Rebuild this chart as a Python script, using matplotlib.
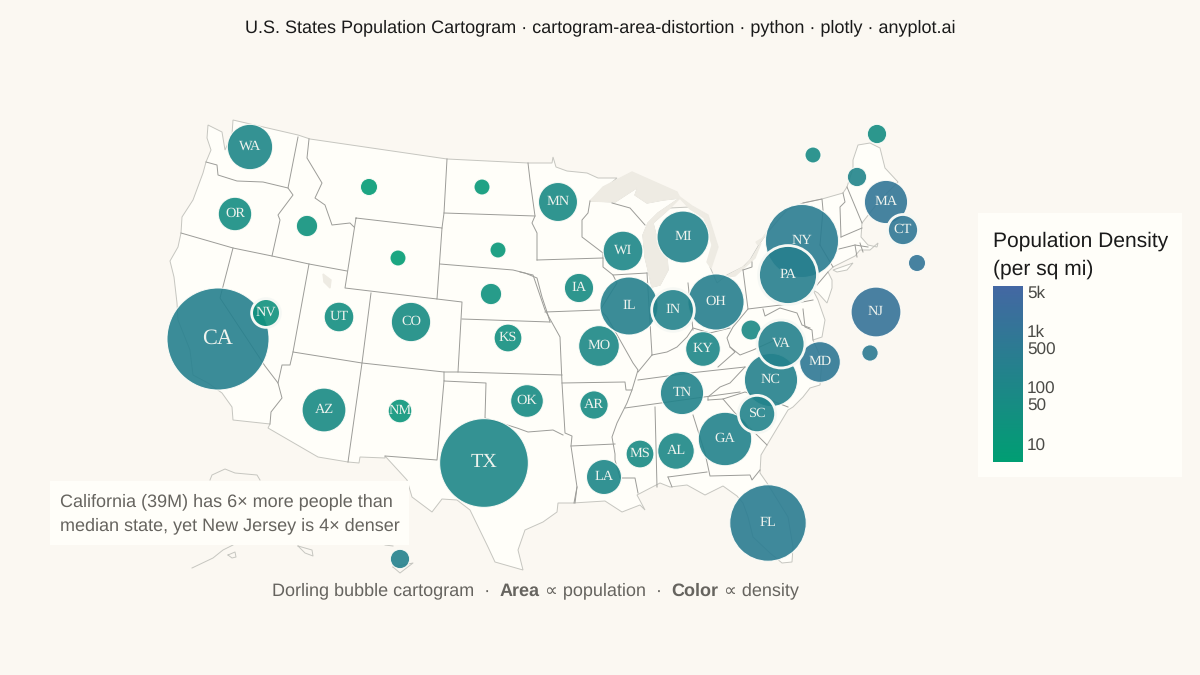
#!/usr/bin/env python3
import matplotlib
matplotlib.use("Agg")
import matplotlib.pyplot as plt
import numpy as np
from matplotlib.colors import LinearSegmentedColormap, LogNorm
from matplotlib.patches import Polygon, Rectangle

plt.rcParams["font.family"] = ["Liberation Sans", "DejaVu Sans"]
plt.rcParams["text.hinting"] = "no_hinting"

# cartogram layout, read in image pixels
STATES = ["WA", "OR", "CA", "NV", "ID", "MT", "WY", "UT", "CO", "AZ", "NM", "ND", "SD", "NE", "KS", "OK", "TX",
          "MN", "IA", "MO", "AR", "LA", "WI", "IL", "IN", "MI", "OH", "KY", "TN", "MS", "AL", "GA", "FL", "SC",
          "NC", "VA", "WV", "MD", "NJ", "PA", "NY", "MA", "CT", "RI", "DE", "ME", "NH", "VT", "HI"]
STATE_X = [250, 235, 218, 266, 307, 369, 398, 339, 411, 324, 400, 482, 498, 491, 508, 527, 484,
           558, 579, 599, 594, 604, 623, 629, 673, 683, 716, 703, 682, 640, 676, 725, 768, 757,
           771, 781, 751, 820, 876, 788, 802, 886, 903, 917, 870, 877, 857, 813, 400]
STATE_Y = [147, 214, 339, 313, 226, 187, 258, 317, 322, 410, 411, 187, 250, 294, 338, 401, 463,
           202, 288, 346, 405, 477, 251, 306, 310, 237, 302, 349, 393, 454, 451, 439, 523, 414,
           380, 344, 330, 362, 312, 275, 241, 202, 230, 263, 353, 134, 177, 155, 559]
POPULATION_M = [7.7, 4.2, 39.0, 3.1, 1.7, 1.1, 0.6, 3.3, 5.8, 7.2, 2.1, 0.8, 0.9, 1.7, 2.9, 4.0, 29.5,
                5.7, 3.2, 6.2, 3.0, 4.6, 5.9, 12.6, 6.8, 10.1, 11.8, 4.5, 7.0, 2.9, 5.0, 10.7, 21.9, 5.2,
                10.6, 8.6, 1.5, 6.2, 9.3, 13.0, 20.0, 7.0, 3.6, 1.1, 1.0, 1.4, 1.4, 0.6, 1.4]
DENSITY = [115, 44, 254, 28, 23, 7.5, 6, 41, 56, 64, 17, 11, 12, 25, 36, 58, 112,
           71, 57, 89, 58, 107, 108, 230, 189, 178, 288, 114, 167, 63, 100, 185, 400, 171,
           215, 218, 75, 636, 1260, 290, 420, 900, 745, 1060, 510, 44, 153, 69, 226]
# states with the heavier white ring
RINGED = ["NV", "IN", "PA", "VA", "SC", "CT"]

CBAR_TICKS = [10, 50, 100, 500, 1000, 5000]
CBAR_LABELS = ["10", "50", "100", "500", "1k", "5k"]

# map outlines in image pixels
LAND = [(233, 120), (298, 135), (310, 139), (447, 159), (528, 163), (552, 163), (553, 157), (556, 167), (567, 171),
        (587, 173), (598, 178), (617, 178), (590, 201), (615, 202), (638, 187), (635, 195), (647, 203), (663, 200),
        (680, 198), (658, 213), (648, 223), (643, 235), (645, 257), (652, 287), (660, 285), (668, 270), (667, 257),
        (658, 243), (653, 223), (670, 208), (690, 207), (707, 215), (717, 247), (710, 267), (717, 283), (727, 275),
        (743, 267), (750, 260), (760, 243), (767, 233), (787, 210), (803, 203), (822, 199), (843, 193), (847, 187),
        (853, 168), (853, 160), (858, 145), (870, 143), (880, 148), (885, 168), (898, 182), (880, 200), (862, 223),
        (861, 237), (868, 245), (877, 247), (878, 243), (870, 250), (860, 250), (855, 256), (833, 267), (828, 272),
        (832, 280), (832, 288), (827, 303), (818, 293), (813, 290), (818, 300), (825, 320), (822, 337), (813, 340),
        (822, 360), (820, 385), (810, 388), (803, 397), (793, 407), (788, 410), (767, 445), (761, 455), (760, 473),
        (767, 483), (788, 517), (793, 547), (792, 562), (782, 563), (770, 553), (753, 537), (748, 517), (743, 503),
        (737, 496), (723, 486), (705, 495), (687, 485), (670, 487), (660, 483), (637, 495), (645, 510), (640, 505),
        (622, 512), (605, 501), (573, 503), (558, 503), (557, 512), (543, 522), (525, 530), (518, 550), (523, 570),
        (495, 562), (488, 547), (470, 510), (457, 500), (442, 499), (432, 512), (412, 497), (407, 480), (385, 456),
        (385, 458), (360, 457), (359, 463), (348, 462), (318, 457), (268, 428), (270, 424), (233, 420), (232, 407),
        (222, 393), (208, 383), (193, 375), (190, 350), (178, 320), (177, 303), (174, 277), (170, 261), (178, 247),
        (181, 233), (182, 217), (193, 200), (203, 173), (206, 162), (211, 150), (207, 138), (208, 125), (222, 132),
        (225, 150), (232, 135)]
LONG_ISLAND = [(833, 270), (853, 263), (847, 270), (837, 272)]
LAKES = [[(590, 201), (603, 187), (632, 172), (677, 192), (680, 198), (663, 200), (647, 203), (635, 195), (638, 187), (615, 202)],
         [(680, 198), (658, 213), (648, 223), (643, 235), (645, 257), (652, 287), (660, 285), (668, 270), (667, 257), (658, 243), (653, 223), (670, 208)],
         [(677, 195), (692, 206), (708, 215), (718, 247), (711, 268), (707, 262), (712, 245), (704, 218), (690, 209)],
         [(725, 277), (745, 266), (752, 258), (761, 243), (755, 258), (735, 276)],
         [(756, 242), (763, 238), (767, 232), (758, 245)],
         [(323, 274), (331, 280), (330, 288), (324, 282)]]
EXTRA_COAST = [[(210, 480), (212, 475), (225, 469), (235, 473), (257, 475), (260, 480)],
               [(192, 568), (213, 558), (223, 550), (233, 545)],
               [(228, 555), (235, 552), (236, 557), (232, 558), (228, 555)],
               [(298, 546), (312, 550), (313, 556), (305, 553), (298, 546)],
               [(385, 545), (393, 546)],
               [(393, 567), (413, 563), (400, 573), (393, 567)]]
BORDERS = [[(206, 162), (217, 165), (218, 175), (237, 181), (263, 182), (288, 188)],
           [(298, 137), (288, 188), (293, 195), (278, 215), (280, 220), (272, 256)],
           [(181, 233), (233, 248), (272, 256), (309, 264), (347, 271)],
           [(309, 139), (307, 158), (322, 183), (315, 198), (325, 205), (332, 225), (350, 223), (354, 227)],
           [(356, 218), (442, 228), (437, 299), (345, 288), (356, 218)],
           [(447, 159), (444, 213), (442, 228)],
           [(444, 213), (535, 216)],
           [(528, 163), (530, 180), (535, 216), (532, 223), (537, 233), (537, 260)],
           [(440, 264), (513, 270), (525, 273), (537, 278), (542, 297), (547, 312), (550, 322)],
           [(437, 299), (462, 302), (458, 372)],
           [(462, 319), (550, 322)],
           [(309, 264), (293, 352), (362, 363), (348, 462)],
           [(371, 293), (362, 363), (444, 372), (458, 372), (562, 375)],
           [(233, 248), (220, 298), (265, 366), (278, 383)],
           [(293, 352), (290, 365), (282, 365), (278, 383), (282, 398), (271, 412), (270, 424)],
           [(520, 272), (533, 275), (545, 310), (560, 337), (562, 383), (565, 433), (572, 436), (571, 446),
            (577, 487), (574, 503)],
           [(545, 312), (600, 310)],
           [(537, 260), (603, 258)],
           [(590, 201), (588, 213), (582, 220), (582, 237), (603, 253), (603, 267), (613, 275), (617, 283), (602, 307),
            (600, 310), (607, 317), (620, 340), (633, 363), (638, 370), (632, 390), (626, 390), (625, 382), (562, 383)],
           [(613, 275), (647, 273)],
           [(612, 203), (630, 208), (645, 225)],
           [(444, 372), (444, 381), (486, 383), (485, 418), (517, 428), (528, 432), (553, 430), (563, 435)],
           [(444, 381), (437, 460), (385, 456)],
           [(571, 446), (615, 444)],
           [(632, 390), (627, 403), (617, 423), (612, 437), (615, 454), (615, 460), (620, 478), (635, 478), (638, 493)],
           [(638, 380), (690, 373), (745, 367)],
           [(625, 408), (740, 392)],
           [(745, 367), (730, 383), (720, 387), (708, 397), (708, 400)],
           [(655, 407), (657, 487)],
           [(693, 415), (705, 453), (710, 476), (750, 475), (752, 480), (760, 470)],
           [(668, 477), (707, 472)],
           [(668, 477), (672, 487)],
           [(723, 399), (735, 413), (757, 435), (767, 445)],
           [(708, 400), (723, 399), (745, 392), (770, 400), (788, 407)],
           [(652, 355), (667, 352), (677, 347), (687, 337), (693, 328), (710, 333), (730, 328)],
           [(638, 372), (652, 355)],
           [(647, 273), (652, 355)],
           [(688, 283), (693, 330)],
           [(718, 367), (735, 352), (730, 347), (727, 338), (733, 327), (748, 309), (743, 270)],
           [(730, 347), (740, 355), (753, 350), (775, 340)],
           [(748, 309), (797, 303), (813, 300)],
           [(763, 309), (765, 316), (780, 308), (797, 313), (802, 325), (810, 328)],
           [(803, 309), (805, 327), (812, 330), (813, 340)],
           [(743, 270), (752, 267), (752, 262)],
           [(803, 203), (822, 199), (823, 210), (820, 245)],
           [(843, 193), (845, 202), (840, 207), (841, 237)],
           [(847, 187), (862, 223)],
           [(841, 237), (862, 228)],
           [(839, 249), (855, 245), (868, 247)],
           [(855, 245), (857, 257)],
           [(860, 243), (863, 252)],
           [(820, 245), (833, 267)],
           [(828, 272), (817, 285)],
           [(575, 503), (577, 487)]]

PAGE_BG = "#FBF8F2"
PANEL_BG = "#FFFEF9"
LAKE_COLOR = "#EEEBE3"
COAST_COLOR = "#C6C6C0"
BORDER_COLOR = "#9C9C98"
MUTED = "#66645F"
PX = 0.72  # points per image pixel at dpi 100


def bubble_radius(pop: float) -> float:
    return max(8.0, 8.17 * np.sqrt(pop))


def draw_map(ax) -> None:
    ax.add_patch(Polygon(LAND, closed=True, facecolor=PANEL_BG, edgecolor=COAST_COLOR, linewidth=0.7, zorder=1))
    ax.add_patch(Polygon(LONG_ISLAND, closed=True, facecolor=PANEL_BG, edgecolor=COAST_COLOR, linewidth=0.7, zorder=1))
    for lake in LAKES:
        ax.add_patch(Polygon(lake, closed=True, facecolor=LAKE_COLOR, edgecolor=LAKE_COLOR, linewidth=1.0, zorder=2))
    for line in EXTRA_COAST:
        xs, ys = zip(*line)
        ax.plot(xs, ys, color=COAST_COLOR, linewidth=0.7, zorder=2)
    for line in BORDERS:
        xs, ys = zip(*line)
        ax.plot(xs, ys, color=BORDER_COLOR, linewidth=0.7, zorder=3)


def draw_bubbles(ax, cmap, norm) -> None:
    x = np.array(STATE_X, dtype=float)
    y = np.array(STATE_Y, dtype=float)
    radii = np.array([bubble_radius(p) for p in POPULATION_M])
    ringed = np.array([s in RINGED for s in STATES])
    sizes = (2 * radii * PX) ** 2
    ax.scatter(x[~ringed], y[~ringed], s=sizes[~ringed], c=np.array(DENSITY)[~ringed], cmap=cmap, norm=norm,
               alpha=0.9, edgecolors=PANEL_BG, linewidths=0.8, zorder=4)
    ax.scatter(x[ringed], y[ringed], s=sizes[ringed], c=np.array(DENSITY)[ringed], cmap=cmap, norm=norm,
               alpha=0.9, edgecolors="none", zorder=5)
    ax.scatter(x[ringed], y[ringed], s=sizes[ringed], facecolors="none", edgecolors="#F6F8F4",
               linewidths=2.0, zorder=6)
    for state, sx, sy, r in zip(STATES, x, y, radii):
        if r < 11.7:
            continue
        fontsize = 16 if state == "CA" else 14.5 if state == "TX" else 10.4
        ax.text(sx, sy - 0.5, state, ha="center", va="center", fontsize=fontsize, color="#EFF3EE",
                family="Liberation Serif", zorder=7)


def draw_subtitle(fig, ax) -> None:
    pieces = [("Dorling bubble cartogram  ·  ", "normal"), ("Area", "bold"), (" ∝ population  ·  ", "normal"),
              ("Color", "bold"), (" ∝ density", "normal")]
    renderer = fig.canvas.get_renderer()
    x = 271.5
    for text, weight in pieces:
        t = ax.text(x, 591, text.replace(" ", "\u00a0"), fontsize=12.95, color=MUTED, weight=weight,
                    ha="left", va="center", zorder=8)
        x += t.get_window_extent(renderer).width


def main() -> None:
    fig = plt.figure(figsize=(12, 6.75), dpi=100, facecolor=PAGE_BG)
    ax = fig.add_axes([0, 0, 1, 1])
    ax.set_xlim(0, 1200)
    ax.set_ylim(675, 0)
    ax.axis("off")

    cmap = LinearSegmentedColormap.from_list("density", ["#009E73", "#4467A3"])
    norm = LogNorm(vmin=5, vmax=6200)

    draw_map(ax)
    draw_bubbles(ax, cmap, norm)

    ax.text(600, 27.5, "U.S. States Population Cartogram · cartogram-area-distortion · python · plotly · anyplot.ai",
            ha="center", va="center", fontsize=13.0, color="#1A1A1A")

    # annotation box
    ax.add_patch(Rectangle((50, 481), 359, 64, facecolor=PANEL_BG, edgecolor="none", zorder=8))
    ax.text(60, 501.5, "California (39M) has 6× more people than", fontsize=12.95, color=MUTED, va="center", zorder=9)
    ax.text(60, 525.5, "median state, yet New Jersey is 4× denser", fontsize=12.95, color=MUTED, va="center", zorder=9)

    draw_subtitle(fig, ax)

    # colorbar panel
    ax.add_patch(Rectangle((978, 213), 204, 264, facecolor=PANEL_BG, edgecolor="none", zorder=1))
    ax.text(993, 241, "Population Density", fontsize=15.1, color="#1A1A1A", va="center")
    ax.text(993, 269, "(per sq mi)", fontsize=15.1, color="#1A1A1A", va="center")

    cax = fig.add_axes([993 / 1200, 1 - 462 / 675, 30 / 1200, 176 / 675])
    levels = np.logspace(np.log10(5), np.log10(6200), 200)
    cax.pcolormesh([0, 1], levels, levels[:-1, None], cmap=cmap, norm=norm, shading="flat")
    cax.set_yscale("log")
    cax.set_ylim(5, 6200)
    cax.set_xticks([])
    cax.yaxis.tick_right()
    cax.set_yticks(CBAR_TICKS, CBAR_LABELS)
    cax.minorticks_off()
    cax.tick_params(axis="y", length=0, pad=3, labelsize=12.3, labelcolor="#4A4A46")
    for spine in cax.spines.values():
        spine.set_visible(False)

    fig.savefig("out.png", dpi=100, facecolor=PAGE_BG)
    plt.close(fig)


if __name__ == "__main__":
    main()
